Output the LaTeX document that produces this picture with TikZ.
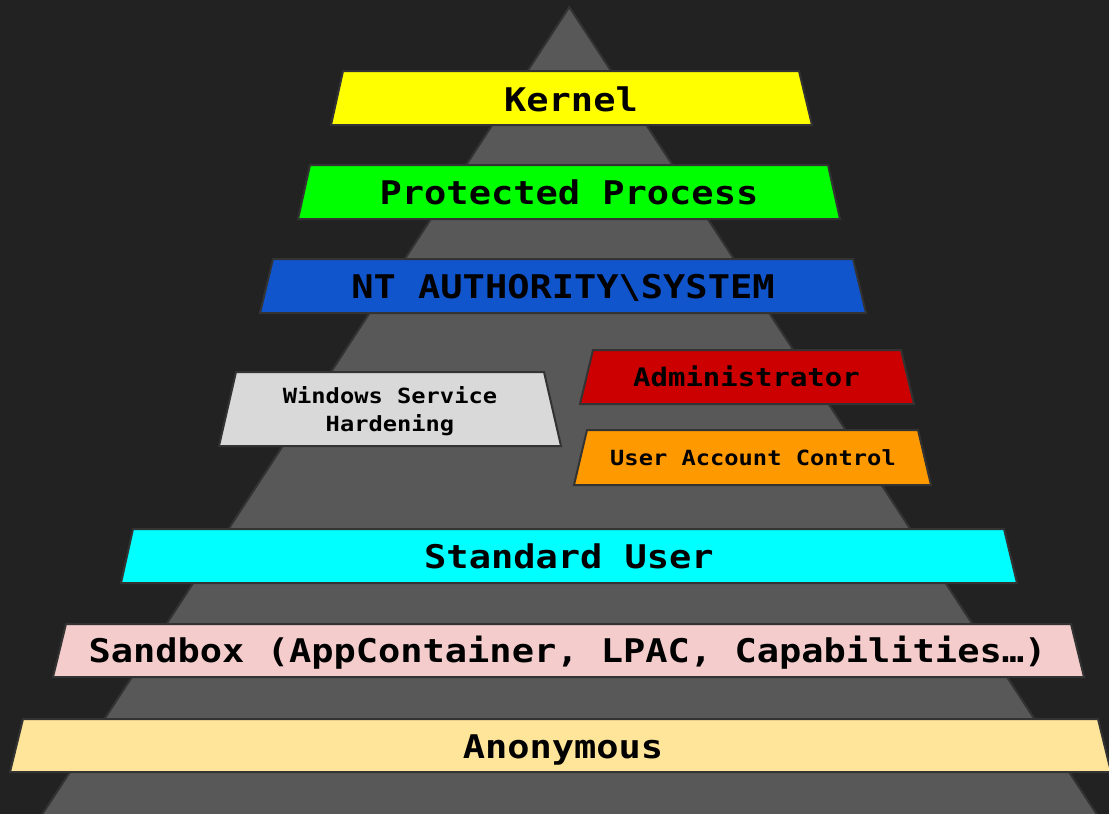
\documentclass[tikz,border=0pt]{standalone}
\usepackage{fontspec}
\newfontfamily\monob{DejaVu Sans Mono}[FakeStretch=1.135]
\definecolor{bgc}{HTML}{222222}
\definecolor{pyr}{HTML}{585858}
\definecolor{edgec}{HTML}{333333}
\definecolor{cKernel}{HTML}{FFFF00}
\definecolor{cProt}{HTML}{00FF00}
\definecolor{cNT}{HTML}{1155CC}
\definecolor{cWSH}{HTML}{D9D9D9}
\definecolor{cAdmin}{HTML}{CC0000}
\definecolor{cUAC}{HTML}{FF9900}
\definecolor{cStd}{HTML}{00FFFF}
\definecolor{cSand}{HTML}{F4CCCC}
\definecolor{cAnon}{HTML}{FFE599}
\tikzset{
  band/.style={draw=edgec, line width=2pt, line join=miter},
  lblbig/.style={anchor=base, inner sep=0pt, text=black, font=\monob\bfseries\fontsize{32.6}{36}\selectfont},
  lblmid/.style={anchor=base, inner sep=0pt, text=black, font=\monob\bfseries\fontsize{25.5}{30}\selectfont},
  lblsmall/.style={anchor=base, inner sep=0pt, text=black, font=\monob\bfseries\fontsize{20.9}{28}\selectfont},
}
\begin{document}
\begin{tikzpicture}[x=1pt,y=-1pt]
\useasboundingbox (0,0) rectangle (1109,814);
\clip (0,0) rectangle (1109,814);
\fill[bgc] (0,0) rectangle (1109,814);
% pyramid
\coordinate (apex) at (569.3,7);
\coordinate (bl) at (32,830);
\coordinate (br) at (1107,830);
\filldraw[fill=pyr, draw=edgec, line width=2pt] (apex) -- (br) -- (bl) -- cycle;
% bands
\filldraw[band, fill=cKernel] (343,71) -- (799,71) -- (812,125) -- (331,125) -- cycle;
\node[lblbig] (kernel) at (571,111) {Kernel};
\filldraw[band, fill=cProt] (310,165) -- (828,165) -- (840,219) -- (298,219) -- cycle;
\node[lblbig] (prot) at (569,204) {Protected Process};
\filldraw[band, fill=cNT] (273,259) -- (853,259) -- (866,313) -- (260,313) -- cycle;
\node[lblbig] (nt) at (563,298) {NT AUTHORITY\textbackslash SYSTEM};
\filldraw[band, fill=cWSH] (236,372) -- (544,372) -- (561,446) -- (219,446) -- cycle;
\node[lblsmall] (wsh1) at (390,403.3) {Windows Service};
\node[lblsmall] (wsh2) at (390,431.7) {Hardening};
\filldraw[band, fill=cAdmin] (593,350) -- (901,350) -- (914,404) -- (580,404) -- cycle;
\node[lblmid] (admin) at (746.5,386.7) {Administrator};
\filldraw[band, fill=cUAC] (587,430) -- (918,430) -- (931,485) -- (574,485) -- cycle;
\node[lblsmall] (uac) at (753,465) {User Account Control};
\filldraw[band, fill=cStd] (133,529) -- (1004,529) -- (1017,583) -- (121,583) -- cycle;
\node[lblbig] (std) at (569,568) {Standard User};
\filldraw[band, fill=cSand] (66,624) -- (1071,624) -- (1084,677) -- (53,677) -- cycle;
\node[lblbig] (sand) at (567.5,662) {Sandbox (AppContainer, LPAC, Capabilities…)};
\filldraw[band, fill=cAnon] (23,719) -- (1098,719) -- (1111,772) -- (10,772) -- cycle;
\node[lblbig] (anon) at (563,758) {Anonymous};
\end{tikzpicture}
\end{document}
